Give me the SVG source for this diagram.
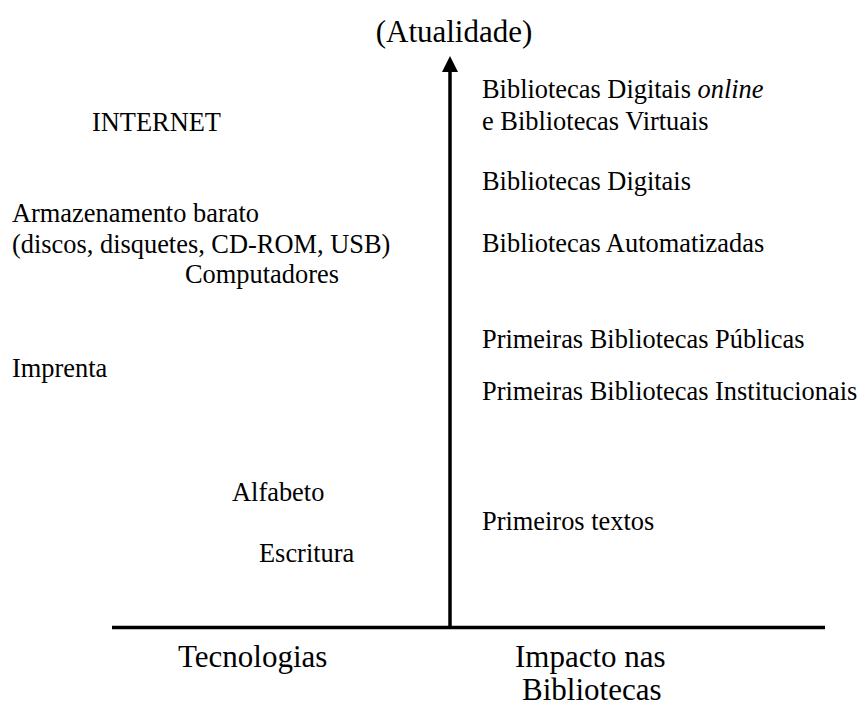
<svg xmlns="http://www.w3.org/2000/svg" width="862" height="707" viewBox="0 0 862 707">
<style>
  text { font-family: "Liberation Serif", "Times New Roman", serif; fill: #000; }
  .t { font-size: 26.4px; }
  .h { font-size: 31px; }
  .ax { stroke: #000; stroke-width: 3.5; fill: none; }
</style>
<defs>
  <marker id="arr" viewBox="0 0 16 16" refX="0" refY="8" markerWidth="16" markerHeight="16" markerUnits="userSpaceOnUse" orient="auto">
    <path d="M0,0 L16,8 L0,16 Z" fill="#000"/>
  </marker>
</defs>
<rect width="862" height="707" fill="#fff"/>
<g id="connectors">
  <line class="ax" x1="112" y1="627.5" x2="825" y2="627.5"/>
  <line class="ax" x1="450" y1="627.5" x2="450" y2="72" marker-end="url(#arr)"/>
</g>
<g id="title"><text class="h" x="454" y="42" text-anchor="middle">(Atualidade)</text></g>
<g id="tecnologias"><text class="h" x="178" y="667">Tecnologias</text></g>
<g id="impacto">
  <text class="h" x="515" y="667">Impacto nas</text>
  <text class="h" x="522" y="700">Bibliotecas</text>
</g>
<g id="internet"><text class="t" x="92" y="131">INTERNET</text></g>
<g id="armazenamento">
  <text class="t" x="12" y="222">Armazenamento barato</text>
  <text class="t" x="12" y="253">(discos, disquetes, CD-ROM, USB)</text>
</g>
<g id="computadores"><text class="t" x="185" y="283">Computadores</text></g>
<g id="imprenta"><text class="t" x="12" y="377">Imprenta</text></g>
<g id="alfabeto"><text class="t" x="232" y="501">Alfabeto</text></g>
<g id="escritura"><text class="t" x="259" y="562">Escritura</text></g>
<g id="bib-online">
  <text class="t" x="482" y="98">Bibliotecas Digitais <tspan font-style="italic">online</tspan></text>
  <text class="t" x="482" y="130">e Bibliotecas Virtuais</text>
</g>
<g id="bib-digitais"><text class="t" x="482" y="190">Bibliotecas Digitais</text></g>
<g id="bib-automatizadas"><text class="t" x="482" y="252">Bibliotecas Automatizadas</text></g>
<g id="bib-publicas"><text class="t" x="482" y="348">Primeiras Bibliotecas Públicas</text></g>
<g id="bib-institucionais"><text class="t" x="482" y="400">Primeiras Bibliotecas Institucionais</text></g>
<g id="primeiros-textos"><text class="t" x="482" y="530">Primeiros textos</text></g>
</svg>
